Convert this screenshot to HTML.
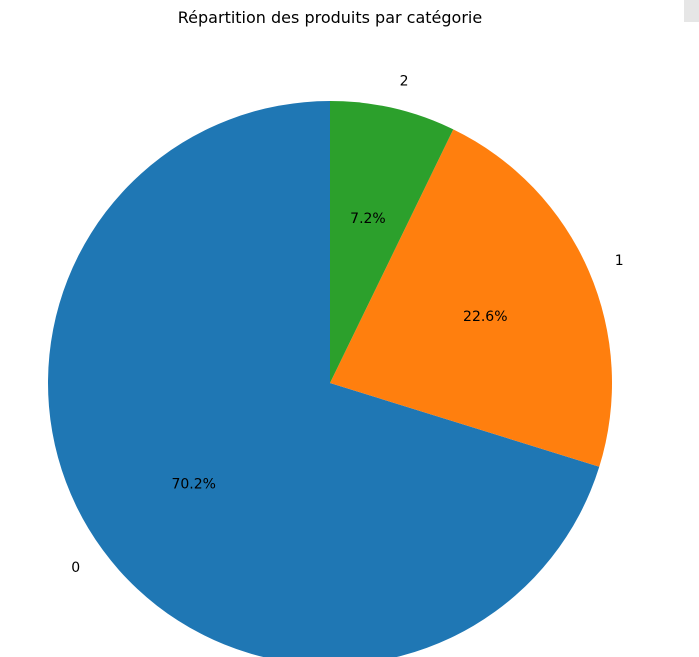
<!DOCTYPE html>
<html><head><meta charset="utf-8"><style>
body{margin:0;background:#fff;}
svg{display:block;font-family:"DejaVu Sans","Liberation Sans",sans-serif;}
</style></head><body>
<svg id="chart" width="699" height="657">
<rect x="684" y="0" width="15" height="22" fill="#e6e6e6"/>
<text x="330" y="23" text-anchor="middle" font-size="16" fill="#000">Répartition des produits par catégorie</text>
<g id="slices"></g>
</svg>
<script>
const categories = ["0", "1", "2"];
const values = [70.2, 22.6, 7.2];
const pctLabels = ["70.2%", "22.6%", "7.2%"];
const colors = ["#1f77b4", "#ff7f0e", "#2ca02c"];
const cx = 330, cy = 383, r = 282, startAngle = 90;
const g = document.getElementById('slices');
const ns = "http://www.w3.org/2000/svg";
const total = values.reduce((a,b)=>a+b,0);
function pt(deg, rr){const a=deg*Math.PI/180;return [cx+rr*Math.cos(a), cy-rr*Math.sin(a)];}
let a0 = startAngle;
values.forEach((v,i)=>{
  const sweep = v/total*360;
  const a1 = a0 + sweep;
  const p0 = pt(a0,r), p1 = pt(a1,r);
  const large = sweep>180?1:0;
  const path = document.createElementNS(ns,'path');
  path.setAttribute('d',`M${cx},${cy} L${p0[0]},${p0[1]} A${r},${r} 0 ${large} 0 ${p1[0]},${p1[1]} Z`);
  path.setAttribute('fill',colors[i]);
  
  
  g.appendChild(path);
  const mid = (a0+a1)/2;
  const lp = pt(mid, r*1.1);
  const lt = document.createElementNS(ns,'text');
  lt.setAttribute('x',lp[0]); lt.setAttribute('y',lp[1]+5);
  const c = Math.cos(mid*Math.PI/180);
  lt.setAttribute('text-anchor', c>0.01?'start':(c<-0.01?'end':'middle'));
  lt.setAttribute('font-size','14');
  lt.textContent = categories[i];
  
  
  g.appendChild(lt);
  const pp = pt(mid, r*0.6);
  const pt2 = document.createElementNS(ns,'text');
  pt2.setAttribute('x',pp[0]); pt2.setAttribute('y',pp[1]+5);
  pt2.setAttribute('text-anchor','middle');
  pt2.setAttribute('font-size','14');
  pt2.textContent = pctLabels[i];
  
  
  g.appendChild(pt2);
  a0 = a1;
});
</script>
</body></html>
